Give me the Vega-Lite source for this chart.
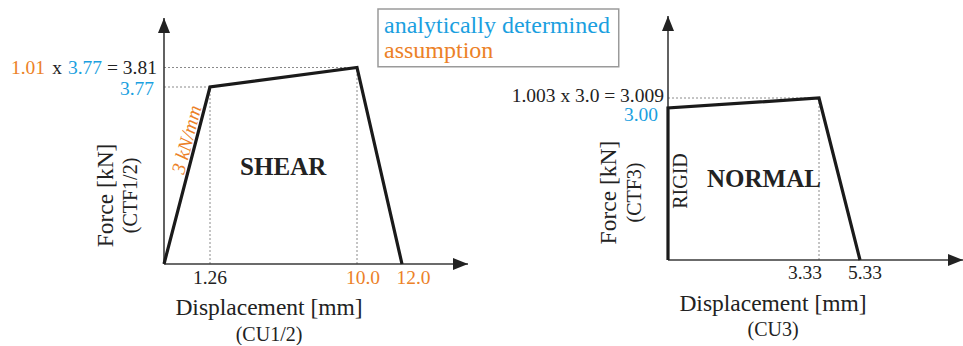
{
  "$schema": "https://vega.github.io/schema/vega-lite/v6.json",
  "background": "white",
  "autosize": {"type": "pad"},
  "padding": {"left": 10, "top": 8, "right": 0, "bottom": 0},
  "bounds": "flush",
  "spacing": 199,
  "config": {"font": "Liberation Serif", "view": {"stroke": null}},
  "hconcat": [
    {
      "width": 305,
      "height": 248,
      "encoding": {
        "x": {"field": "x", "type": "quantitative", "axis": null,
              "scale": {"domain": [0, 1.26, 10, 12, 13.55], "range": [0, 46, 193, 238, 304], "nice": false, "zero": false}},
        "y": {"field": "y", "type": "quantitative", "axis": null,
              "scale": {"domain": [0, 3.77, 3.81, 4.4, 4.5], "range": [248, 71, 51.5, 2, -6.4], "nice": false, "zero": false}}
      },
      "layer": [
        {"data": {"values": [{"x": 10.933, "x2": 17.09, "y": 3.8195, "y2": 4.507}]},
         "mark": {"type": "rect", "fill": "white", "stroke": "#9a9a9a", "strokeWidth": 1.5},
         "encoding": {"x2": {"field": "x2"}, "y2": {"field": "y2"}}},
        {"data": {"values": [
            {"x": 11.2, "y": 4.305, "label": "analytically determined", "source": "analytically determined"},
            {"x": 11.2, "y": 4.007, "label": "assumption", "source": "assumption"}]},
         "mark": {"type": "text", "font": "Liberation Serif", "fontSize": 24, "align": "left", "baseline": "middle"},
         "encoding": {"text": {"field": "label"},
           "color": {"field": "source", "type": "nominal", "legend": null,
             "scale": {"domain": ["analytically determined", "assumption"], "range": ["#1b9fe0", "#ec8127"]}}}},
        {"data": {"values": [
            {"x": 0, "y": 3.81, "x2": 10, "y2": 3.81},
            {"x": 0, "y": 3.77, "x2": 1.26, "y2": 3.77},
            {"x": 1.26, "y": 0, "x2": 1.26, "y2": 3.77},
            {"x": 10, "y": 0, "x2": 10, "y2": 3.81}]},
         "mark": {"type": "rule", "color": "#8a8a8a", "strokeWidth": 1, "strokeDash": [2, 2]},
         "encoding": {"x2": {"field": "x2"}, "y2": {"field": "y2"}}},
        {"data": {"values": [
            {"x": 0, "y": 0, "x2": 13.55, "y2": 0},
            {"x": 0, "y": 0, "x2": 0, "y2": 4.4}]},
         "mark": {"type": "rule", "color": "#3a3a3a", "strokeWidth": 1.6},
         "encoding": {"x2": {"field": "x2"}, "y2": {"field": "y2"}}},
        {"data": {"values": [{"x": 0, "y": 4.4}]},
         "mark": {"type": "point", "shape": "M0,0L-1,2.5L1,2.5Z", "size": 144, "filled": true, "color": "#222", "opacity": 1}},
        {"data": {"values": [{"x": 13.55, "y": 0}]},
         "mark": {"type": "point", "shape": "M0,0L-2.5,-1L-2.5,1Z", "size": 144, "filled": true, "color": "#222", "opacity": 1}},
        {"data": {"values": [
            {"x": 0, "y": 0, "o": 1},
            {"x": 1.26, "y": 3.77, "o": 2},
            {"x": 10, "y": 3.81, "o": 3},
            {"x": 12, "y": 0, "o": 4}]},
         "mark": {"type": "line", "color": "#1a1a1a", "strokeWidth": 3.2, "strokeJoin": "miter"},
         "encoding": {"order": {"field": "o", "type": "quantitative"}}},
        {"data": {"values": [{"x": 5.61, "y": 2.062, "label": "SHEAR"}]},
         "mark": {"type": "text", "font": "Liberation Serif", "fontSize": 25, "fontWeight": "bold", "color": "#222", "align": "center", "baseline": "middle"},
         "encoding": {"text": {"field": "label"}}},
        {"data": {"values": [{"x": 0.87, "y": 2.6, "label": "3 kN/mm", "source": "assumption"}]},
         "mark": {"type": "text", "font": "Liberation Serif", "fontSize": 19.5, "fontStyle": "italic", "angle": -75.4, "align": "center", "baseline": "alphabetic", "dy": -3},
         "encoding": {"text": {"field": "label"},
           "color": {"field": "source", "type": "nominal", "legend": null,
             "scale": {"domain": ["analytically determined", "assumption"], "range": ["#1b9fe0", "#ec8127"]}}}},
        {"data": {"values": [{"x": 1.26, "y": 0, "label": "1.26"}]},
         "mark": {"type": "text", "font": "Liberation Serif", "fontSize": 19.5, "color": "#222", "align": "center", "baseline": "middle", "dy": 14},
         "encoding": {"text": {"field": "label"}}},
        {"data": {"values": [{"x": 10, "y": 0, "label": "10.0", "source": "assumption"}]},
         "mark": {"type": "text", "font": "Liberation Serif", "fontSize": 19.5, "align": "center", "baseline": "middle", "dy": 14, "dx": 6},
         "encoding": {"text": {"field": "label"},
           "color": {"field": "source", "type": "nominal", "legend": null,
             "scale": {"domain": ["analytically determined", "assumption"], "range": ["#1b9fe0", "#ec8127"]}}}},
        {"data": {"values": [{"x": 12, "y": 0, "label": "12.0", "source": "assumption"}]},
         "mark": {"type": "text", "font": "Liberation Serif", "fontSize": 19.5, "align": "center", "baseline": "middle", "dy": 14, "dx": 11.5},
         "encoding": {"text": {"field": "label"},
           "color": {"field": "source", "type": "nominal", "legend": null,
             "scale": {"domain": ["analytically determined", "assumption"], "range": ["#1b9fe0", "#ec8127"]}}}},
        {"data": {"values": [{"x": 0, "y": 3.81, "label": "= 3.81"}]},
         "mark": {"type": "text", "font": "Liberation Serif", "fontSize": 19.5, "color": "#222", "align": "right", "baseline": "middle", "dx": -7},
         "encoding": {"text": {"field": "label"}}},
        {"data": {"values": [{"x": 0, "y": 3.81, "label": "3.77", "source": "analytically determined"}]},
         "mark": {"type": "text", "font": "Liberation Serif", "fontSize": 19.5, "align": "right", "baseline": "middle", "dx": -62},
         "encoding": {"text": {"field": "label"},
           "color": {"field": "source", "type": "nominal", "legend": null,
             "scale": {"domain": ["analytically determined", "assumption"], "range": ["#1b9fe0", "#ec8127"]}}}},
        {"data": {"values": [{"x": 0, "y": 3.81, "label": "x"}]},
         "mark": {"type": "text", "font": "Liberation Serif", "fontSize": 19.5, "color": "#222", "align": "right", "baseline": "middle", "dx": -102},
         "encoding": {"text": {"field": "label"}}},
        {"data": {"values": [{"x": 0, "y": 3.81, "label": "1.01", "source": "assumption"}]},
         "mark": {"type": "text", "font": "Liberation Serif", "fontSize": 19.5, "align": "right", "baseline": "middle", "dx": -119},
         "encoding": {"text": {"field": "label"},
           "color": {"field": "source", "type": "nominal", "legend": null,
             "scale": {"domain": ["analytically determined", "assumption"], "range": ["#1b9fe0", "#ec8127"]}}}},
        {"data": {"values": [{"x": 0, "y": 3.77, "label": "3.77", "source": "analytically determined"}]},
         "mark": {"type": "text", "font": "Liberation Serif", "fontSize": 19.5, "align": "right", "baseline": "middle", "dx": -10, "dy": 1.5},
         "encoding": {"text": {"field": "label"},
           "color": {"field": "source", "type": "nominal", "legend": null,
             "scale": {"domain": ["analytically determined", "assumption"], "range": ["#1b9fe0", "#ec8127"]}}}},
        {"data": {"values": [{"x": 0, "y": 1.46, "label": "Force [kN]"}]},
         "mark": {"type": "text", "font": "Liberation Serif", "fontSize": 23.5, "color": "#222", "angle": -90, "align": "center", "baseline": "middle", "dy": -58},
         "encoding": {"text": {"field": "label"}}},
        {"data": {"values": [{"x": 0, "y": 1.46, "label": "(CTF1/2)"}]},
         "mark": {"type": "text", "font": "Liberation Serif", "fontSize": 20, "color": "#222", "angle": -90, "align": "center", "baseline": "middle", "dy": -33},
         "encoding": {"text": {"field": "label"}}},
        {"data": {"values": [{"x": 4.77, "y": 0, "label": "Displacement [mm]"}]},
         "mark": {"type": "text", "font": "Liberation Serif", "fontSize": 23.5, "color": "#222", "align": "center", "baseline": "middle", "dy": 44},
         "encoding": {"text": {"field": "label"}}},
        {"data": {"values": [{"x": 4.77, "y": 0, "label": "(CU1/2)"}]},
         "mark": {"type": "text", "font": "Liberation Serif", "fontSize": 20, "color": "#222", "align": "center", "baseline": "middle", "dy": 71},
         "encoding": {"text": {"field": "label"}}}
      ]
    },
    {
      "width": 295,
      "height": 244,
      "encoding": {
        "x": {"field": "x", "type": "quantitative", "axis": null,
              "scale": {"domain": [0, 3.33, 5.33, 7.4], "range": [0, 151, 192, 295], "nice": false, "zero": false}},
        "y": {"field": "y", "type": "quantitative", "axis": null,
              "scale": {"domain": [0, 3.0, 3.009, 3.8], "range": [244, 92, 82, 0], "nice": false, "zero": false}}
      },
      "layer": [
        {"data": {"values": [
            {"x": 0, "y": 3.009, "x2": 3.33, "y2": 3.009},
            {"x": 3.33, "y": 0, "x2": 3.33, "y2": 3.009}]},
         "mark": {"type": "rule", "color": "#8a8a8a", "strokeWidth": 1, "strokeDash": [2, 2]},
         "encoding": {"x2": {"field": "x2"}, "y2": {"field": "y2"}}},
        {"data": {"values": [
            {"x": 0, "y": 0, "x2": 7.4, "y2": 0},
            {"x": 0, "y": 0, "x2": 0, "y2": 3.8}]},
         "mark": {"type": "rule", "color": "#3a3a3a", "strokeWidth": 1.6},
         "encoding": {"x2": {"field": "x2"}, "y2": {"field": "y2"}}},
        {"data": {"values": [{"x": 0, "y": 3.8}]},
         "mark": {"type": "point", "shape": "M0,0L-1,2.5L1,2.5Z", "size": 144, "filled": true, "color": "#222", "opacity": 1}},
        {"data": {"values": [{"x": 7.4, "y": 0}]},
         "mark": {"type": "point", "shape": "M0,0L-2.5,-1L-2.5,1Z", "size": 144, "filled": true, "color": "#222", "opacity": 1}},
        {"data": {"values": [
            {"x": 0, "y": 0, "o": 1},
            {"x": 0, "y": 3.0, "o": 2},
            {"x": 3.33, "y": 3.009, "o": 3},
            {"x": 5.33, "y": 0, "o": 4}]},
         "mark": {"type": "line", "color": "#1a1a1a", "strokeWidth": 3.2, "strokeJoin": "miter"},
         "encoding": {"order": {"field": "o", "type": "quantitative"}}},
        {"data": {"values": [{"x": 2.117, "y": 1.593, "label": "NORMAL"}]},
         "mark": {"type": "text", "font": "Liberation Serif", "fontSize": 25, "fontWeight": "bold", "color": "#222", "align": "center", "baseline": "middle"},
         "encoding": {"text": {"field": "label"}}},
        {"data": {"values": [{"x": 0, "y": 1.559, "label": "RIGID"}]},
         "mark": {"type": "text", "font": "Liberation Serif", "fontSize": 20, "color": "#222", "angle": -90, "align": "center", "baseline": "middle", "dy": 13},
         "encoding": {"text": {"field": "label"}}},
        {"data": {"values": [{"x": 0, "y": 3.009, "label": "1.003 x 3.0 = 3.009"}]},
         "mark": {"type": "text", "font": "Liberation Serif", "fontSize": 19.5, "color": "#222", "align": "right", "baseline": "middle", "dx": -4, "dy": -2},
         "encoding": {"text": {"field": "label"}}},
        {"data": {"values": [{"x": 0, "y": 3.0, "label": "3.00", "source": "analytically determined"}]},
         "mark": {"type": "text", "font": "Liberation Serif", "fontSize": 19.5, "align": "right", "baseline": "middle", "dx": -10, "dy": 7},
         "encoding": {"text": {"field": "label"},
           "color": {"field": "source", "type": "nominal", "legend": null,
             "scale": {"domain": ["analytically determined", "assumption"], "range": ["#1b9fe0", "#ec8127"]}}}},
        {"data": {"values": [{"x": 3.33, "y": 0, "label": "3.33"}]},
         "mark": {"type": "text", "font": "Liberation Serif", "fontSize": 19.5, "color": "#222", "align": "center", "baseline": "middle", "dy": 13, "dx": -14},
         "encoding": {"text": {"field": "label"}}},
        {"data": {"values": [{"x": 5.33, "y": 0, "label": "5.33"}]},
         "mark": {"type": "text", "font": "Liberation Serif", "fontSize": 19.5, "color": "#222", "align": "center", "baseline": "middle", "dy": 13, "dx": 5},
         "encoding": {"text": {"field": "label"}}},
        {"data": {"values": [{"x": 0, "y": 1.332, "label": "Force [kN]"}]},
         "mark": {"type": "text", "font": "Liberation Serif", "fontSize": 23.5, "color": "#222", "angle": -90, "align": "center", "baseline": "middle", "dy": -59.5},
         "encoding": {"text": {"field": "label"}}},
        {"data": {"values": [{"x": 0, "y": 1.332, "label": "(CTF3)"}]},
         "mark": {"type": "text", "font": "Liberation Serif", "fontSize": 20, "color": "#222", "angle": -90, "align": "center", "baseline": "middle", "dy": -33},
         "encoding": {"text": {"field": "label"}}},
        {"data": {"values": [{"x": 2.316, "y": 0, "label": "Displacement [mm]"}]},
         "mark": {"type": "text", "font": "Liberation Serif", "fontSize": 23.5, "color": "#222", "align": "center", "baseline": "middle", "dy": 44},
         "encoding": {"text": {"field": "label"}}},
        {"data": {"values": [{"x": 2.316, "y": 0, "label": "(CU3)"}]},
         "mark": {"type": "text", "font": "Liberation Serif", "fontSize": 20, "color": "#222", "align": "center", "baseline": "middle", "dy": 69.5},
         "encoding": {"text": {"field": "label"}}}
      ]
    }
  ]
}
